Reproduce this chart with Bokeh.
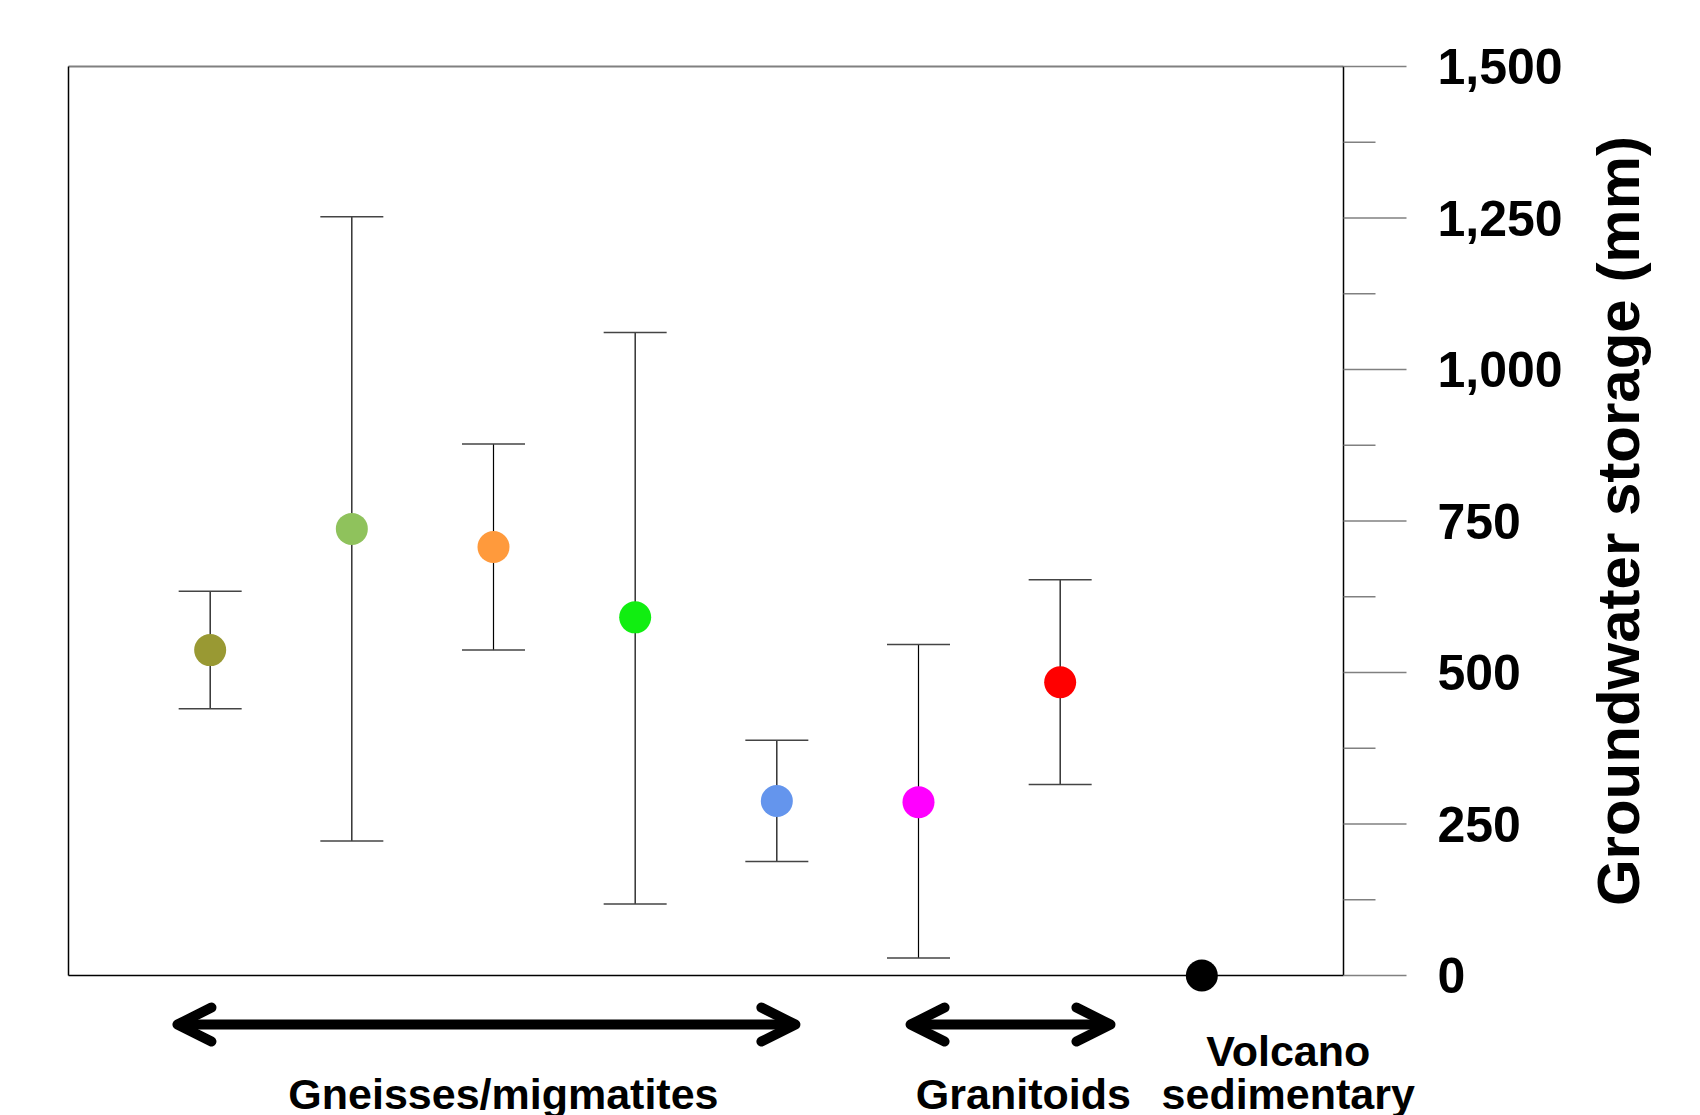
import math
from bokeh.plotting import figure
from bokeh.models import (Range1d, Label, Arrow, OpenHead, Whisker, TeeHead, ColumnDataSource)
from bokeh.core.properties import value
from bokeh.embed import file_html
from bokeh.resources import INLINE

# ---- data ----
positions = [1, 2, 3, 4, 5, 6, 7, 8]
means = [537, 737, 707, 591, 288, 286, 484, 0]
upper = [634, 1252, 877, 1061, 388, 546, 653]
lower = [440, 222, 537, 118, 188, 29, 315]
colors = ["#999933", "#8fc25c", "#ff9a3c", "#11ee11", "#6495ed", "#ff00ff", "#ff0000", "#000000"]
major_ticks = [0, 250, 500, 750, 1000, 1250, 1500]
minor_ticks = [125, 375, 625, 875, 1125, 1375]
tick_labels = ["0", "250", "500", "750", "1,000", "1,250", "1,500"]
y_title = "Groundwater storage (mm)"
groups = ["Gneisses/migmatites", "Granitoids", "Volcano", "sedimentary"]
group_x = [3.07, 6.74, 8.61, 8.61]
group_y = [-195, -195, -124, -195]
arrow_spans = [(0.769, 5.131), (5.944, 7.355)]
arrow_y = -81

FONT = "Liberation Sans"
X_MIN, X_MAX = 0, len(positions) + 1
Y_MIN, Y_MAX = major_ticks[0], major_ticks[-1]

# page layout (pixels)
W, H = 1700, 1115
LEFT, RIGHT, TOP, BOTTOM = 68, 1343, 66, 975
sx = (RIGHT - LEFT) / (X_MAX - X_MIN)
sy = (BOTTOM - TOP) / (Y_MAX - Y_MIN)

p = figure(width=W, height=H,
           x_range=Range1d(X_MIN - LEFT / sx, X_MAX + (W - RIGHT) / sx),
           y_range=Range1d(Y_MIN - (H - BOTTOM) / sy, Y_MAX + TOP / sy),
           output_backend="svg", toolbar_location=None,
           x_axis_location=None, y_axis_location=None,
           min_border=0)
p.outline_line_color = None
p.grid.visible = False
p.background_fill_color = "white"
p.border_fill_color = "white"

# frame borders
p.segment(x0=[X_MIN], y0=[Y_MAX], x1=[X_MAX], y1=[Y_MAX], line_color="#808080", line_width=2)
p.segment(x0=[X_MIN], y0=[Y_MIN], x1=[X_MAX], y1=[Y_MIN], line_color="black", line_width=1.5)
p.segment(x0=[X_MIN], y0=[Y_MIN], x1=[X_MIN], y1=[Y_MAX], line_color="black", line_width=1.5)

# right-hand value axis
p.segment(x0=[X_MAX], y0=[Y_MIN], x1=[X_MAX], y1=[Y_MAX], line_color="black", line_width=1.5)
p.ray(x=[X_MAX] * len(major_ticks), y=major_ticks, length=63, length_units="screen", angle=0,
      line_color="#808080", line_width=1.5)
p.ray(x=[X_MAX] * len(minor_ticks), y=minor_ticks, length=32, length_units="screen", angle=0,
      line_color="#808080", line_width=1.5)
p.text(x=[X_MAX] * len(major_ticks), y=major_ticks, text=tick_labels, x_offset=94,
       text_font=value(FONT), text_font_style="bold", text_font_size="50px",
       text_baseline="middle", text_align="left", text_color="black")
p.text(x=[X_MAX], y=[(Y_MIN + Y_MAX) / 2], text=[y_title], x_offset=275, angle=math.pi / 2,
       text_font=value(FONT), text_font_style="bold", text_font_size="60px",
       text_baseline="alphabetic", text_align="center", text_color="black")

# error bars
src_err = ColumnDataSource(dict(x=positions[:len(upper)], upper=upper, lower=lower))
p.add_layout(Whisker(base="x", upper="upper", lower="lower", source=src_err, dimension="height",
                     line_color="black", line_width=1.2,
                     upper_head=TeeHead(size=63, line_color="#444444", line_width=1.5),
                     lower_head=TeeHead(size=63, line_color="#444444", line_width=1.5)))

# points
src = ColumnDataSource(dict(x=positions, y=means, c=colors))
p.scatter("x", "y", source=src, size=32, fill_color="c", line_color=None)

# group arrows
def head():
    return OpenHead(size=34, line_width=10, line_color="black", line_cap="round", line_join="round")

for x0, x1 in arrow_spans:
    p.add_layout(Arrow(start=head(), end=head(), x_start=x0, y_start=arrow_y, x_end=x1, y_end=arrow_y,
                       line_width=10, line_color="black"))

# group labels
for gx, gy, t in zip(group_x, group_y, groups):
    p.add_layout(Label(x=gx, y=gy, text=t, text_font=FONT, text_font_style="bold",
                       text_font_size="43px", text_align="center", text_baseline="alphabetic",
                       text_color="black"))

open("out.html", "w").write(file_html(p, INLINE))
